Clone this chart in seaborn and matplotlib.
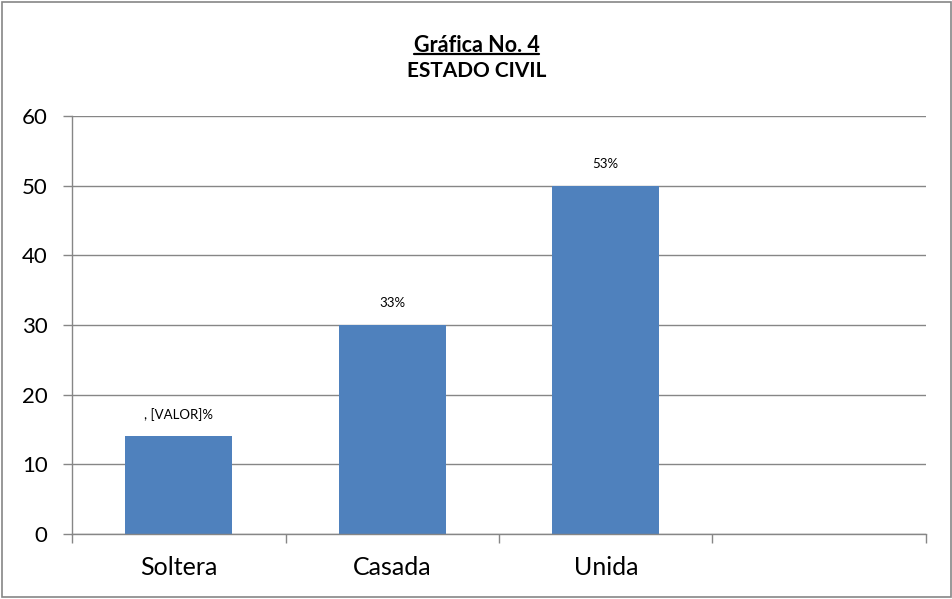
import matplotlib
matplotlib.use("Agg")
import matplotlib.pyplot as plt
from matplotlib.lines import Line2D
from matplotlib.patches import Rectangle
import seaborn as sns
import pandas as pd

categories = ["Soltera", "Casada", "Unida", ""]
values = [14, 30, 50]
bar_labels = [", [VALOR]%", "33%", "53%"]
y_ticks = [0, 10, 20, 30, 40, 50, 60]

sns.set_theme(style="white")
plt.rcParams["font.family"] = ["Lato", "DejaVu Sans"]

df = pd.DataFrame({"estado": categories[:len(values)], "valor": values})

fig = plt.figure(figsize=(9.53, 5.99), dpi=100)
ax = fig.add_axes([72 / 953, 1 - 534 / 599, (926 - 72) / 953, (534 - 116) / 599])

sns.barplot(data=df, x="estado", y="valor", order=categories, color="#4F81BD",
            width=0.5, saturation=1, linewidth=0, ax=ax)

ax.set_xlim(-0.5, len(categories) - 0.5)
ax.set_ylim(y_ticks[0], y_ticks[-1])
ax.set_yticks(y_ticks)
ax.yaxis.grid(True, color="#868686", linewidth=1.0)
ax.set_axisbelow(True)
ax.set_xlabel("")
ax.set_ylabel("")

# category labels centred in slots, tick marks on slot boundaries
ax.set_xticks(range(len(categories)))
ax.set_xticklabels(categories)
ax.set_xticks([i - 0.5 for i in range(len(categories) + 1)], minor=True)
ax.tick_params(axis="x", which="major", length=0, labelsize=18, pad=16, colors="black")
ax.tick_params(axis="x", which="minor", length=6.5, width=1, color="#868686", direction="out")
ax.tick_params(axis="y", length=6.5, width=1, color="#868686", direction="out",
               labelsize=16, pad=11, labelcolor="black")
ax.xaxis.set_tick_params(bottom=True, which="both")
ax.yaxis.set_tick_params(left=True)

for side in ["top", "right"]:
    ax.spines[side].set_visible(False)
for side in ["left", "bottom"]:
    ax.spines[side].set_color("#868686")
    ax.spines[side].set_linewidth(1.0)

for i, (v, lab) in enumerate(zip(values, bar_labels)):
    ax.annotate(lab, (i, v), xytext=(0, 15.5), textcoords="offset points",
                ha="center", va="center", fontsize=9.5, color="black")

# title block
t1 = fig.text(0.5, 1 - 45 / 599, "Gráfica No. 4", ha="center", va="center",
              fontsize=15.5, fontweight="bold", color="black")
fig.text(0.5, 1 - 71 / 599, "ESTADO CIVIL", ha="center", va="center",
         fontsize=15, fontweight="bold", color="black")
fig.canvas.draw()
bb = t1.get_window_extent().transformed(fig.transFigure.inverted())
fig.add_artist(Line2D([bb.x0, bb.x1], [bb.y0 + 0.002, bb.y0 + 0.002],
                      transform=fig.transFigure, color="black", linewidth=1.6))

# outer frame
fig.add_artist(Rectangle((2 / 953, 2 / 599), 1 - 4 / 953, 1 - 4 / 599,
                         transform=fig.transFigure, fill=False,
                         edgecolor="#868686", linewidth=1.2))

fig.savefig("out.png", dpi=100)
